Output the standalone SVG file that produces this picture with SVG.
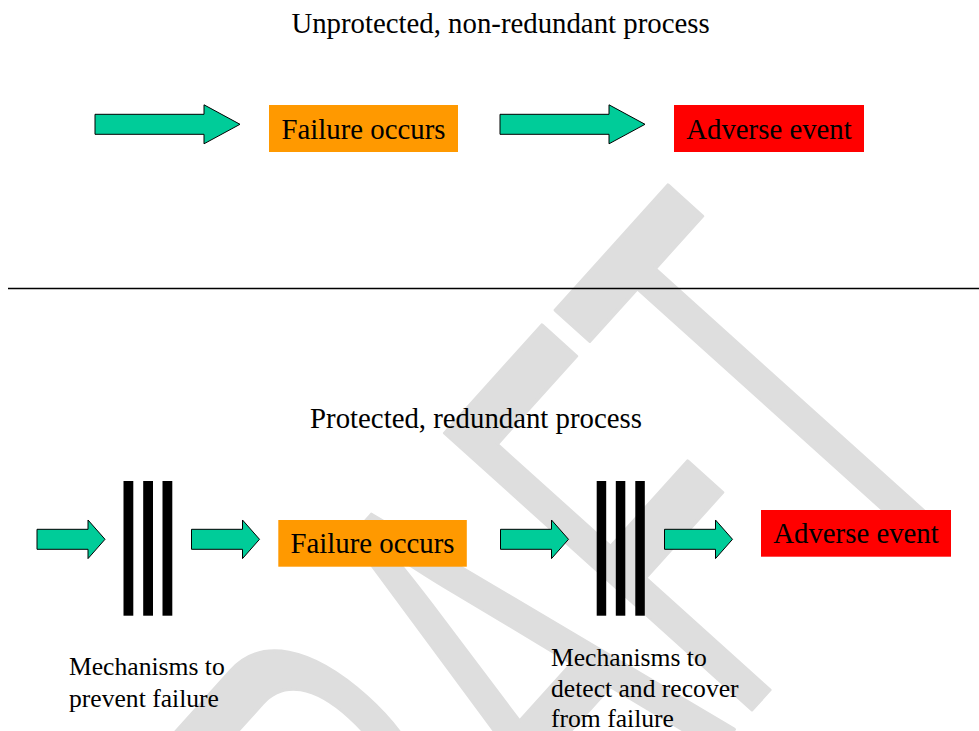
<svg xmlns="http://www.w3.org/2000/svg" xmlns:xlink="http://www.w3.org/1999/xlink" width="979" height="731" viewBox="0 0 979 731">
  <style>
    .wm { font-family: "Liberation Sans", Arial, sans-serif; font-size: 600px; fill: #dedede; stroke: #dedede; stroke-width: 4; stroke-linejoin: round; }
    .t { font-family: "Liberation Serif", "Times New Roman", serif; fill: #000; }
    .title { font-size: 28.8px; text-anchor: middle; }
    .box { font-size: 28.8px; text-anchor: middle; }
    .lbl { font-size: 25.6px; }
    .arrow { fill: #00cc99; stroke: #000; stroke-width: 1; stroke-linejoin: miter; }
    .bar { fill: #000; }
    .orange { fill: #ff9900; }
    .red { fill: #ff0000; }
  </style>
  <defs>
    <path id="bigArrow" d="M0,-10 H109 V-19.5 L145,0 L109,19.5 V10 H0 Z"/>
    <path id="smallArrow" d="M0,-10 H51 V-19.3 L68,0 L51,19.3 V10 H0 Z"/>
  </defs>
  <rect x="0" y="0" width="979" height="731" fill="#fff"/>

  <g id="watermark">
    <text class="wm" transform="translate(311,1199) rotate(-48) scale(0.5,1)" x="0" y="0">DRAFT</text>
  </g>

  <g id="title-unprotected">
    <text class="t title" x="500.5" y="33">Unprotected, non-redundant process</text>
  </g>

  <g id="divider">
    <line x1="8" y1="288.5" x2="979" y2="288.5" stroke="#000" stroke-width="1.4"/>
  </g>

  <g id="title-protected">
    <text class="t title" x="476" y="428">Protected, redundant process</text>
  </g>

  <g id="connectors">
    <use xlink:href="#bigArrow" class="arrow" transform="translate(95,124.3)"/>
    <use xlink:href="#bigArrow" class="arrow" transform="translate(500,124.3)"/>
    <use xlink:href="#smallArrow" class="arrow" transform="translate(37,539.3)"/>
    <use xlink:href="#smallArrow" class="arrow" transform="translate(191.5,539.3)"/>
    <use xlink:href="#smallArrow" class="arrow" transform="translate(500.5,539.3)"/>
    <use xlink:href="#smallArrow" class="arrow" transform="translate(664.5,539.3)"/>
  </g>

  <g id="failure-top">
    <rect class="orange" x="269" y="105" width="189" height="47"/>
    <text class="t box" x="363.5" y="139">Failure occurs</text>
  </g>

  <g id="adverse-top">
    <rect class="red" x="674" y="105" width="190" height="47"/>
    <text class="t box" x="769" y="139">Adverse event</text>
  </g>

  <g id="prevent-barrier">
    <rect class="bar" x="123.5" y="481" width="9.8" height="134.7"/>
    <rect class="bar" x="143.2" y="481" width="9.8" height="134.7"/>
    <rect class="bar" x="162.5" y="481" width="9.8" height="134.7"/>
  </g>

  <g id="failure-bottom">
    <rect class="orange" x="278.3" y="520" width="188.5" height="46.7"/>
    <text class="t box" x="372.5" y="553.3">Failure occurs</text>
  </g>

  <g id="detect-barrier">
    <rect class="bar" x="596.7" y="481" width="9.5" height="134.7"/>
    <rect class="bar" x="615.8" y="481" width="9.5" height="134.7"/>
    <rect class="bar" x="635.3" y="481" width="9.5" height="134.7"/>
  </g>

  <g id="adverse-bottom">
    <rect class="red" x="761" y="510" width="190" height="46.7"/>
    <text class="t box" x="856" y="542.7">Adverse event</text>
  </g>

  <g id="label-prevent">
    <text class="t lbl" x="69" y="675">Mechanisms to</text>
    <text class="t lbl" x="69" y="706.5">prevent failure</text>
  </g>

  <g id="label-detect">
    <text class="t lbl" x="551" y="666">Mechanisms to</text>
    <text class="t lbl" x="551" y="696.7">detect and recover</text>
    <text class="t lbl" x="551" y="726.7">from failure</text>
  </g>
</svg>
